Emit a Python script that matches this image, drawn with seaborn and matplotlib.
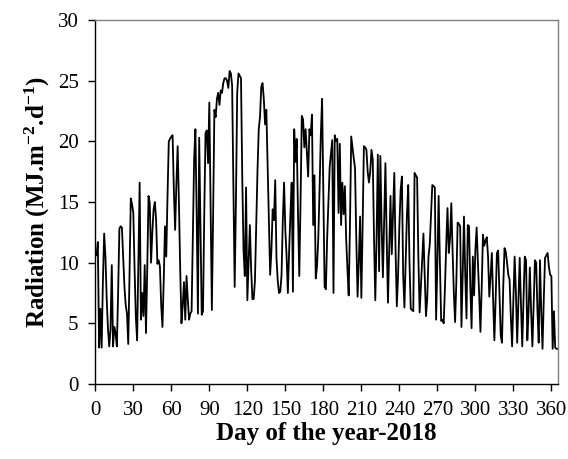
import numpy as np
import pandas as pd
import matplotlib
matplotlib.use("Agg")
import matplotlib.pyplot as plt
import seaborn as sns

# ---------- data: daily solar radiation, 2018 ----------
days = list(range(1, 366))

rad_jan_feb = [
    10.6, 11.7, 3.0, 6.2, 3.0, 8.5, 12.4, 10.5, 7.0, 4.5,
    3.1, 4.5, 9.8, 3.1, 4.7, 4.2, 3.1, 7.5, 12.8, 13.0,
    12.9, 10.5, 8.0, 6.5, 5.8, 3.3, 9.0, 15.3, 14.8, 14.1,
    9.5, 5.5, 3.6, 10.0, 16.6, 5.3, 7.5, 5.6, 9.8, 4.2,
    9.5, 15.5, 14.9, 10.0, 12.5, 14.4, 15.0, 13.5, 9.9, 10.2,
    9.7, 6.5, 4.7, 8.5, 13.0, 10.5, 15.5, 20.0, 20.2,
]
rad_mar_apr = [
    20.4, 20.5, 16.0, 12.7, 16.5, 19.6, 15.0, 9.5, 5.0, 6.5,
    8.4, 5.3, 8.9, 7.0, 5.3, 5.8, 6.0, 12.0, 18.5, 21.0,
    14.0, 5.8, 20.3, 13.0, 5.7, 6.0, 14.0, 20.7, 20.9, 18.2,
    23.2, 15.0, 6.1, 14.0, 22.6, 22.0, 23.5, 24.0, 23.0, 24.2,
    24.0, 24.8, 25.2, 25.2, 25.0, 24.4, 25.8, 25.6, 24.6, 16.0,
    8.0, 15.0, 24.0, 25.6, 25.4, 25.2, 17.0, 11.0, 8.9, 16.2,
    6.9,
]
rad_may_jun = [
    10.0, 13.1, 9.5, 7.0, 7.0, 8.5, 13.0, 17.5, 21.0, 22.0,
    24.5, 24.8, 23.5, 21.4, 22.6, 18.0, 13.0, 9.0, 11.0, 14.4,
    13.5, 16.8, 10.4, 8.5, 7.5, 7.6, 9.0, 13.5, 16.6, 12.7,
    10.5, 7.5, 11.0, 14.0, 16.6, 7.6, 21.0, 18.3, 20.2, 14.0,
    8.9, 15.0, 22.1, 21.8, 19.5, 21.0, 19.0, 17.1, 21.0, 20.5,
    22.2, 13.1, 17.2, 8.7, 9.7, 12.0, 16.0, 20.5, 23.5, 16.0,
    8.0,
]
rad_jul_aug = [
    7.8, 12.0, 15.0, 17.9, 19.0, 20.1, 7.5, 20.5, 20.0,
    20.2, 14.1, 19.8, 13.1, 16.6, 14.0, 16.3, 12.0, 9.5, 7.3,
    13.0, 20.4, 19.5, 18.6, 17.8, 12.0, 7.2, 10.0, 13.8, 7.1,
    13.0, 19.6, 19.5, 19.3, 17.5, 16.6, 17.5, 19.3, 18.5, 12.0,
    6.9, 12.0, 18.9, 9.3, 18.8, 13.0, 8.8, 13.5, 18.2, 12.0,
    6.7, 11.0, 15.5, 10.7, 14.0, 17.4, 11.0, 6.4, 9.0, 13.0,
    16.0, 17.1,
]
rad_sep_oct = [
    9.0, 6.3, 10.0, 14.0, 16.4, 10.0, 6.2, 6.1,
    6.0, 17.4, 17.2, 17.0, 10.5, 5.9, 8.0, 10.2, 12.4, 9.0,
    5.6, 7.0, 10.5, 11.5, 14.0, 16.4, 16.3, 16.2, 5.3, 10.0,
    15.5, 10.0, 5.2, 5.3, 5.0, 8.0, 11.5, 14.5, 10.8, 12.0,
    14.9, 11.0, 7.5, 5.1, 8.5, 13.3, 13.2, 13.0, 4.7, 9.0,
    13.8, 9.0, 5.4, 13.1, 13.0, 8.0, 4.6, 10.5, 7.3, 11.0,
    12.9, 10.0, 7.4, 4.3,
]
rad_nov_dec = [
    8.0, 12.3, 11.4, 11.8, 12.1, 10.5,
    7.2, 8.9, 10.8, 7.0, 3.6, 7.0, 10.8, 11.0, 7.5, 4.0,
    3.4, 8.0, 11.2, 10.9, 10.0, 9.0, 8.6, 5.5, 3.1, 7.0,
    10.5, 7.5, 3.4, 7.0, 10.4, 6.5, 3.1, 7.0, 10.5, 10.2,
    3.6, 6.0, 9.6, 6.0, 3.1, 6.5, 10.2, 10.0, 6.0, 3.4,
    10.2, 6.0, 2.9, 7.0, 10.4, 10.6, 10.8, 9.7, 9.0, 8.9,
    2.9, 6.0, 3.0, 2.9, 2.9,
]

radiation = rad_jan_feb + rad_mar_apr + rad_may_jun + rad_jul_aug + rad_sep_oct + rad_nov_dec
radiation = radiation[:len(days)] + [2.9] * (len(days) - len(radiation))

x_ticks = list(range(0, 361, 30))
y_ticks = list(range(0, 31, 5))

df = pd.DataFrame({"day": days, "radiation": radiation})

# ---------- style ----------
sns.set_style("ticks")
plt.rcParams['font.family'] = ['Liberation Serif', 'DejaVu Serif']
plt.rcParams['mathtext.fontset'] = 'custom'
plt.rcParams['mathtext.rm'] = 'Liberation Serif'
plt.rcParams['mathtext.bf'] = 'Liberation Serif:bold'
plt.rcParams['mathtext.default'] = 'bf'
plt.rcParams['text.color'] = 'black'
plt.rcParams['axes.labelcolor'] = 'black'
plt.rcParams['xtick.color'] = 'black'
plt.rcParams['ytick.color'] = 'black'

fig = plt.figure(figsize=(5.68, 4.59), dpi=100)
ax = fig.add_axes([0.1678, 0.1634, 0.8141, 0.7930])

sns.lineplot(data=df, x="day", y="radiation", color="black", linewidth=1.3, ax=ax)

ax.set_xlim(0, 365)
ax.set_ylim(0, 30)
ax.set_xticks(x_ticks)
ax.set_yticks(y_ticks)
ax.tick_params(axis='both', labelsize=15, length=5, width=1, color='black', pad=7)

for side in ['left', 'bottom']:
    ax.spines[side].set_color('black')
    ax.spines[side].set_linewidth(1.0)
for side in ['top', 'right']:
    ax.spines[side].set_visible(True)
    ax.spines[side].set_color('#808080')
    ax.spines[side].set_linewidth(1.0)

ax.set_xlabel('Day of the year-2018', fontsize=18, fontweight='bold', labelpad=2)
ax.set_ylabel(r'Radiation (MJ.m$^{-2}$.d$^{-1}$)', fontsize=18, fontweight='bold', labelpad=4)

plt.savefig('out.png', dpi=100)
plt.close()
